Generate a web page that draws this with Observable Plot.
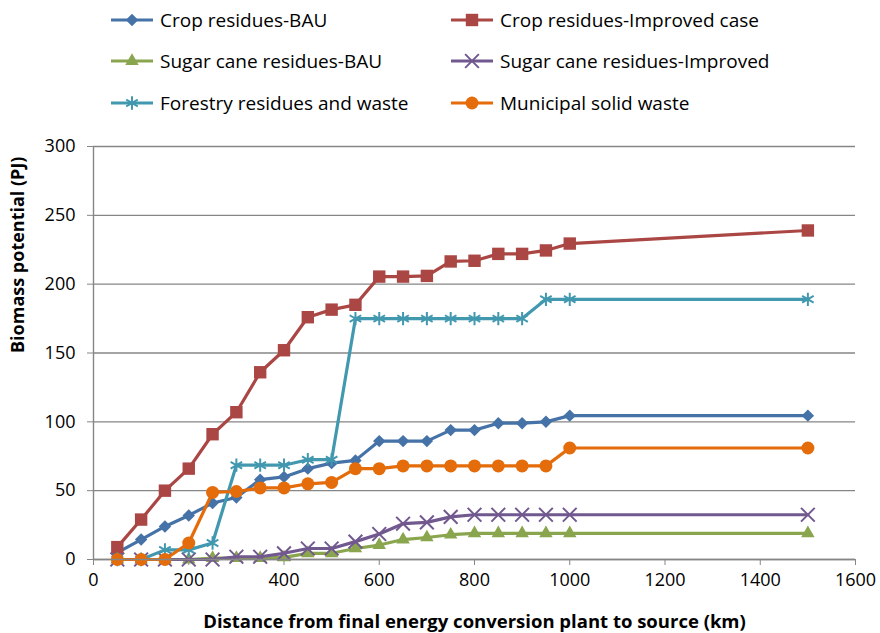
<!DOCTYPE html>
<html><head><meta charset="utf-8">
<script src="https://cdn.jsdelivr.net/npm/d3@7"></script>
<script src="https://cdn.jsdelivr.net/npm/@observablehq/plot@0.6"></script>
<style>
body{margin:0;background:#fff;font-family:"Open Sans",Arial,sans-serif;}
#legend{position:relative;height:125px;width:880px;}
.item{position:absolute;display:flex;align-items:center;font-size:19px;color:#000;white-space:nowrap;height:30px;}
.item svg{margin-right:6px;}
</style>
</head><body>
<div id="legend"></div>
<div id="chart"></div>
<script>
const distance = [50,100,150,200,250,300,350,400,450,500,550,600,650,700,750,800,850,900,950,1000,1500];
const cropBAU = [5,14.5,24,32,41,45,58,60,66,70,72,86,86,86,94,94,99,99,100,104.5,104.5];
const cropImproved = [9,29,50,66,91,107,136,152,176,181.5,185,205.5,205.5,206,216.5,217,222,222,224.5,229.5,239];
const sugarBAU = [0,0,0,0,1,1,1,1.5,4.5,4.5,8,10.5,14.5,16,18,19,19,19,19,19,19];
const sugarImproved = [0,0,0,0,0,2,2,4.5,8,8,13,18.5,26,27,31,32.5,32.5,32.5,32.5,32.5,32.5];
const forestry = [0,0,7,7,12,68.5,68.5,68.5,72.5,72.5,175,175,175,175,175,175,175,175,189,189,189];
const msw = [0,0,0,12,48.7,49.4,52,52,55,56,66,66,68,68,68,68,68,68,68,81,81];
const seriesNames = ["Crop residues-BAU","Crop residues-Improved case","Sugar cane residues-BAU","Sugar cane residues-Improved","Forestry residues and waste","Municipal solid waste"];
const yTicks = [0,50,100,150,200,250,300];
const xTicks = [0,200,400,600,800,1000,1200,1400,1600];

const seriesValues = [cropBAU,cropImproved,sugarBAU,sugarImproved,forestry,msw];
const styles = [
  {color:"#4572A7", symbol:"diamond2", r:5.6, filled:true},
  {color:"#AA4643", symbol:"square", r:7.0, filled:true},
  {color:"#89A54E", symbol:"triangle", r:5.0, filled:true},
  {color:"#71588F", symbol:"times", r:6.3, filled:false},
  {color:"#4198AF", symbol:"asterisk", r:6.3, filled:false},
  {color:"#E46C0A", symbol:"circle", r:6.5, filled:true}
];
const data = [];
seriesNames.forEach((name,i)=>distance.forEach((d,j)=>data.push({series:name, distance:d, value:seriesValues[i][j]})));

const marks = [
  Plot.gridY(yTicks, {stroke:"#868686", strokeOpacity:1, strokeWidth:1.4}),
  Plot.ruleX([0], {stroke:"#868686", strokeWidth:1.4}),
  Plot.axisY(yTicks, {tickSize:6, stroke:"#868686", tickPadding:12, fontSize:18, fill:"#000", label:null, tickFormat:d3.format("d")}),
  Plot.axisX(xTicks, {tickSize:6, stroke:"#868686", tickPadding:8, fontSize:18, fill:"#000", label:null, tickFormat:d3.format("d")}),
  Plot.text(["Biomass potential (PJ)"], {frameAnchor:"left", dx:-75, rotate:-90, fontSize:18, fontWeight:"bold", fill:"#000"}),
  Plot.text(["Distance from final energy conversion plant to source (km)"], {frameAnchor:"bottom", dy:68, fontSize:18.5, fontWeight:"bold", fill:"#000"})
];
seriesNames.forEach((name,i)=>{
  const s = styles[i];
  const sd = data.filter(d=>d.series===name);
  marks.push(Plot.line(sd, {x:"distance", y:"value", stroke:s.color, strokeWidth:3.2, strokeLinejoin:"round"}));
  if (s.filled) marks.push(Plot.dot(sd, {x:"distance", y:"value", symbol:()=>s.symbol, r:s.r, fill:s.color, stroke:"none"}));
  else marks.push(Plot.dot(sd, {x:"distance", y:"value", symbol:()=>s.symbol, r:s.r, fill:"none", stroke:s.color, strokeWidth:2}));
});
marks.push(Plot.ruleY([0], {stroke:"#868686", strokeWidth:1.4}));

const chart = Plot.plot({
  width:880, height:508,
  marginTop:21, marginBottom:74, marginLeft:93, marginRight:25,
  style:{fontFamily:'"Open Sans",Arial,sans-serif', fontSize:"18px", background:"#fff", overflow:"visible"},
  x:{domain:[0,1600]},
  y:{domain:[0,300]},
  symbol:{type:"identity"},
  marks
});
document.getElementById("chart").appendChild(chart);

// legend
const legend = document.getElementById("legend");
const pos = [[110,20],[450,20],[110,61],[450,61],[110,103],[450,103]];
const symMap = {diamond2:d3.symbolDiamond2, square:d3.symbolSquare, triangle:d3.symbolTriangle, times:d3.symbolTimes, asterisk:d3.symbolAsterisk, circle:d3.symbolCircle};
seriesNames.forEach((name,i)=>{
  const s = styles[i];
  const div = document.createElement("div");
  div.className = "item";
  div.style.left = pos[i][0]+"px";
  div.style.top = (pos[i][1]-15)+"px";
  const path = d3.symbol(symMap[s.symbol], Math.PI*s.r*s.r)();
  div.innerHTML = `<svg width="44" height="30"><line x1="1" x2="43" y1="15" y2="15" stroke="${s.color}" stroke-width="3.2"/><path transform="translate(22,15)" d="${path}" fill="${s.filled?s.color:'none'}" stroke="${s.filled?'none':s.color}" stroke-width="2"/></svg><span>${name}</span>`;
  legend.appendChild(div);
});
</script>
</body></html>
